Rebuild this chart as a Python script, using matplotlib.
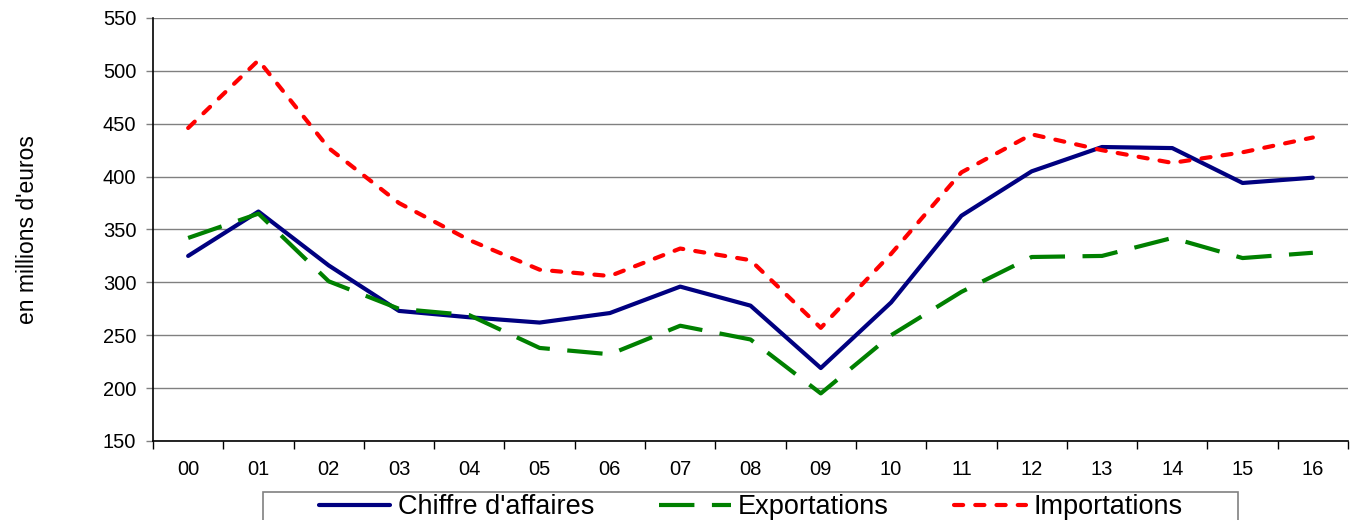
import matplotlib
matplotlib.use("Agg")
import matplotlib.pyplot as plt
from matplotlib.patches import Rectangle
import numpy as np

plt.rcParams['font.family'] = ['Liberation Sans', 'DejaVu Sans']

years = ["00", "01", "02", "03", "04", "05", "06", "07", "08", "09",
         "10", "11", "12", "13", "14", "15", "16"]
chiffre = [325, 367, 316, 273, 267, 262, 271, 296, 278, 219,
           281, 363, 405, 428, 427, 394, 399]
exportations = [342, 365, 301, 275, 269, 238, 232, 259, 246, 195,
                250, 291, 324, 325, 342, 323, 328]
importations = [446, 510, 427, 375, 340, 312, 306, 332, 321, 257,
                327, 404, 440, 425, 413, 423, 437]
yticks = [150, 200, 250, 300, 350, 400, 450, 500, 550]

fig = plt.figure(figsize=(13.57, 5.2), dpi=100)
ax = fig.add_axes([153/1357, 1-441/520, 1195/1357, 423/520])

x = np.arange(len(years))
lw = 3.0
ax.plot(x, chiffre, color='#000080', lw=lw, label="Chiffre d'affaires",
        solid_capstyle='round', solid_joinstyle='round')
ax.plot(x, exportations, color='#008000', lw=lw, label="Exportations",
        dashes=(8.5, 4.2), dash_capstyle='butt', dash_joinstyle='round')
ax.plot(x, importations, color='#ff0000', lw=lw, label="Importations",
        dashes=(2.2, 2.9), dash_capstyle='round', dash_joinstyle='round')

ax.set_xlim(-0.5, len(years) - 0.5)
ax.set_ylim(150, 550)
ax.set_yticks(yticks)
ax.set_yticklabels([str(v) for v in yticks], fontsize=14.5)
ax.yaxis.grid(True, color='#808080', lw=1)
ax.set_axisbelow(True)

ax.set_xticks(x)
ax.set_xticklabels(years, fontsize=14.5)
ax.set_xticks(np.arange(-0.5, len(years), 1.0), minor=True)
ax.tick_params(axis='x', which='major', length=0, pad=14)
ax.tick_params(axis='x', which='minor', length=6, width=1, direction='out', color='black')
ax.tick_params(axis='y', length=5, width=1, direction='out', color='#808080', pad=7)

for s in ['top', 'right']:
    ax.spines[s].set_visible(False)
ax.spines['left'].set_linewidth(1.2)
ax.spines['bottom'].set_linewidth(1.2)

fig.text(28/1357, 1-230/520, "en millions d'euros", rotation=90, fontsize=16.5,
         ha='center', va='center')

fig.patches.append(Rectangle((263/1357, -0.05), 975/1357, 0.05 + 1-492/520,
                             transform=fig.transFigure, fill=False,
                             edgecolor='#808080', lw=1.2))

leg = fig.legend(loc='center', bbox_to_anchor=(750.5/1357, 1-507/520),
                 ncol=3, fontsize=19.5, frameon=False,
                 handlelength=2.65, handletextpad=0.27, columnspacing=2.4,
                 borderpad=0.0)

fig.savefig("out.png", dpi=100)
